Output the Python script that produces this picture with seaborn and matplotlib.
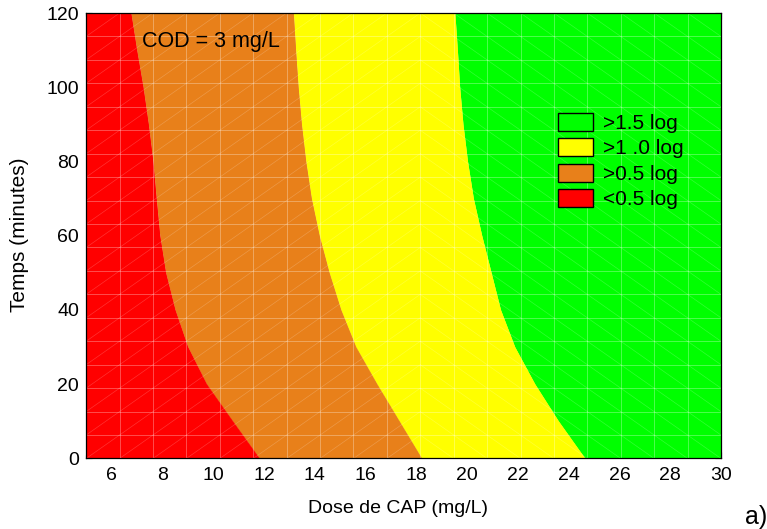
import numpy as np
import pandas as pd
import matplotlib
matplotlib.use("Agg")
import matplotlib.pyplot as plt
from matplotlib.patches import Patch
from matplotlib.ticker import MultipleLocator
import seaborn as sns

# Contact time (minutes) at which each iso-reduction boundary is sampled
temps = [0, 10, 20, 30, 40, 50, 60, 70, 80, 90, 100, 110, 120]

# CAP dose (mg/L) on each boundary between reduction classes
limite_05 = [11.82, 10.77, 9.74, 9.00, 8.50, 8.13, 7.90, 7.76, 7.63, 7.45, 7.24, 6.99, 6.76]
limite_10 = [18.21, 17.33, 16.45, 15.62, 15.03, 14.57, 14.18, 13.87, 13.65, 13.48, 13.35, 13.25, 13.16]
limite_15 = [24.64, 23.60, 22.67, 21.88, 21.32, 20.95, 20.58, 20.25, 20.02, 19.84, 19.71, 19.62, 19.52]

dose_min, dose_max = 5, 30
temps_min, temps_max = 0, 120

classes = ["<0.5 log", ">0.5 log", ">1 .0 log", ">1.5 log"]
couleurs = ["#ff0000", "#e8801a", "#ffff00", "#00ff00"]

sns.set_theme(style="ticks", rc={"text.color": "black", "axes.labelcolor": "black",
                                 "xtick.color": "black", "ytick.color": "black"})
plt.rcParams["font.family"] = ["Liberation Sans", "DejaVu Sans"]

fig = plt.figure(figsize=(7.67, 5.29), dpi=100)
ax = fig.add_axes([0.1123, 0.1333, 0.8277, 0.8421])

t = np.asarray(temps, dtype=float)
bornes = [np.full_like(t, dose_min), np.asarray(limite_05), np.asarray(limite_10),
          np.asarray(limite_15), np.full_like(t, dose_max)]

# Coloured bands of the response surface
for k, c in enumerate(couleurs):
    ax.fill_betweenx(t, bornes[k], bornes[k + 1], color=c, lw=0, zorder=1)

# Boundaries between classes
df = pd.DataFrame({"temps": np.tile(t, 3),
                   "dose": np.concatenate([limite_05, limite_10, limite_15]),
                   "limite": np.repeat(["0.5", "1.0", "1.5"], len(t))})
sns.lineplot(data=df, x="dose", y="temps", hue="limite", orient="y", sort=False,
             palette=couleurs[:3], lw=0.6, legend=False, ax=ax, zorder=2)

# Triangulated fitting mesh (20 x 20 nodes)
xg = np.linspace(dose_min, dose_max, 20)
yg = np.linspace(temps_min, temps_max, 20)
for x in xg[1:-1]:
    ax.plot([x, x], [temps_min, temps_max], color="white", alpha=0.3, lw=0.7, zorder=3)
for y in yg[1:-1]:
    ax.plot([dose_min, dose_max], [y, y], color="white", alpha=0.3, lw=0.7, zorder=3)
for i in range(len(xg) - 1):
    for j in range(len(yg) - 1):
        if i < 10:
            xs, ys = [xg[i], xg[i + 1]], [yg[j], yg[j + 1]]
        else:
            xs, ys = [xg[i], xg[i + 1]], [yg[j + 1], yg[j]]
        ax.plot(xs, ys, color="white", alpha=0.2, lw=0.5, zorder=3)

ax.set_xlim(dose_min, dose_max)
ax.set_ylim(temps_min, temps_max)
ax.set_xticks(np.arange(6, 31, 2))
ax.set_yticks(np.arange(0, 121, 20))
ax.xaxis.set_minor_locator(MultipleLocator(1))
ax.yaxis.set_minor_locator(MultipleLocator(5))
ax.tick_params(which="both", direction="in", top=True, right=True, color="black",
               labelsize=14, width=0.8)
ax.tick_params(which="major", length=4)
ax.tick_params(which="minor", length=2.5)
ax.tick_params(axis="x", pad=6)
ax.tick_params(axis="y", pad=5)
for s in ax.spines.values():
    s.set_color("black")
    s.set_linewidth(0.9)
    s.set_zorder(5)

ax.set_xlabel("Dose de CAP (mg/L)", fontsize=14)
ax.xaxis.set_label_coords(0.4905, -0.113)
ax.xaxis.label.set_va("center")
ax.set_ylabel("Temps (minutes)", fontsize=15)
ax.yaxis.set_label_coords(-0.105, 0.502)
ax.yaxis.label.set_va("center")

ax.text(0.088, 0.935, "COD = 3 mg/L", transform=ax.transAxes, fontsize=15.5,
        va="center", ha="left", zorder=6)

handles = [Patch(facecolor=c, edgecolor="black", lw=1) for c in couleurs[::-1]]
ax.legend(handles, classes[::-1], loc="upper left", bbox_to_anchor=(0.7437, 0.776),
          frameon=False, fontsize=15, borderpad=0, handlelength=1.68,
          handleheight=0.94, handletextpad=0.48, labelspacing=0.26, borderaxespad=0)

fig.text(0.971, 0.0, "a)", fontsize=18, ha="left", va="bottom")

fig.savefig("out.png", dpi=100)
